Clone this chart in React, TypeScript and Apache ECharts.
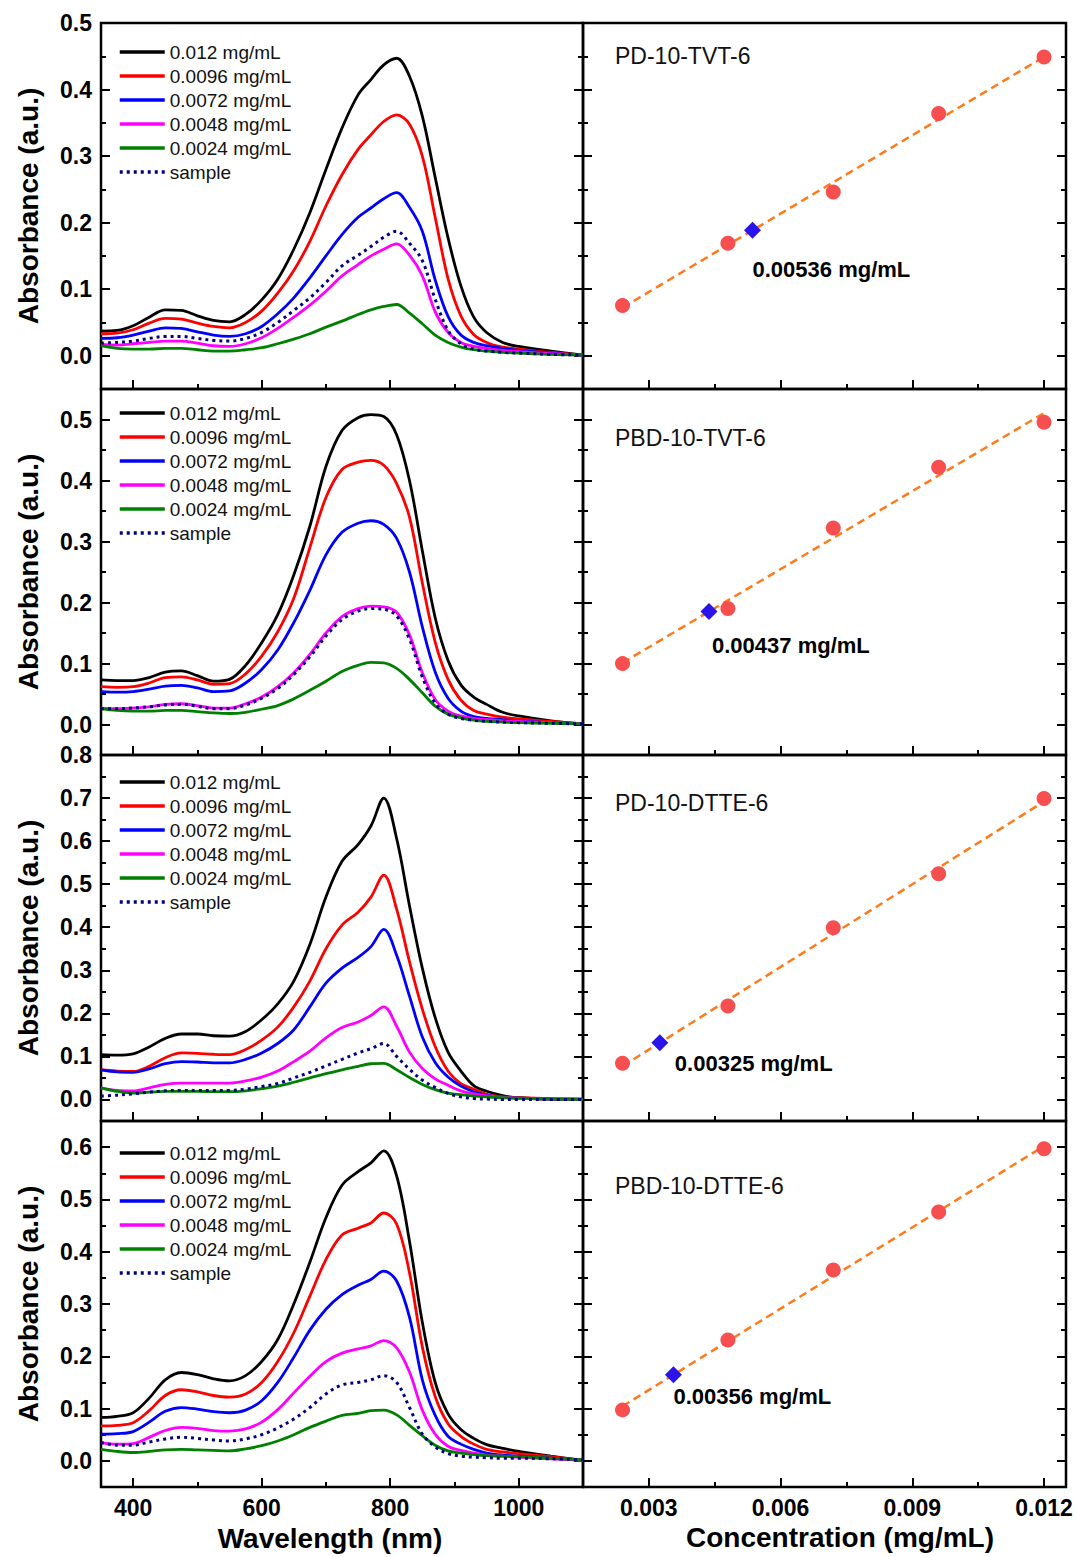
import React, { useEffect, useRef } from "react";
import * as echarts from "echarts";

// ---- spectra: absorbance vs wavelength (nm) ----
const WAVELENGTH = [350, 375, 400, 425, 450, 475, 500, 525, 550, 575, 600, 625, 650, 675, 700, 725, 750, 770, 790, 810, 830, 850, 870, 890, 910, 930, 950, 975, 1000, 1050, 1100];

const SERIES_NAMES = ["0.012 mg/mL", "0.0096 mg/mL", "0.0072 mg/mL", "0.0048 mg/mL", "0.0024 mg/mL", "sample"];
const SERIES_COLORS = ["#000000", "#ff0000", "#0000ff", "#ff00ff", "#008000", "#000080"];

// PD-10-TVT-6
const PD_TVT_0120 = [0.037, 0.038, 0.045, 0.058, 0.069, 0.068, 0.060, 0.053, 0.051, 0.062, 0.084, 0.115, 0.160, 0.215, 0.280, 0.342, 0.392, 0.415, 0.437, 0.447, 0.420, 0.360, 0.268, 0.177, 0.105, 0.058, 0.035, 0.020, 0.014, 0.007, 0.001];
const PD_TVT_0096 = [0.033, 0.034, 0.039, 0.049, 0.056, 0.055, 0.049, 0.044, 0.042, 0.050, 0.067, 0.094, 0.128, 0.172, 0.225, 0.272, 0.310, 0.332, 0.352, 0.362, 0.348, 0.300, 0.208, 0.116, 0.060, 0.032, 0.020, 0.013, 0.010, 0.005, 0.001];
const PD_TVT_0072 = [0.026, 0.027, 0.031, 0.037, 0.042, 0.041, 0.036, 0.031, 0.029, 0.033, 0.044, 0.063, 0.087, 0.117, 0.150, 0.182, 0.208, 0.222, 0.236, 0.245, 0.223, 0.187, 0.114, 0.059, 0.031, 0.020, 0.015, 0.011, 0.008, 0.004, 0.001];
const PD_TVT_0048 = [0.017, 0.016, 0.018, 0.020, 0.022, 0.022, 0.019, 0.015, 0.014, 0.018, 0.027, 0.041, 0.058, 0.076, 0.097, 0.120, 0.137, 0.150, 0.160, 0.168, 0.151, 0.120, 0.066, 0.035, 0.020, 0.014, 0.011, 0.008, 0.006, 0.003, 0.001];
const PD_TVT_0024 = [0.015, 0.011, 0.010, 0.010, 0.011, 0.011, 0.009, 0.007, 0.007, 0.009, 0.012, 0.018, 0.025, 0.033, 0.043, 0.052, 0.062, 0.069, 0.074, 0.077, 0.064, 0.048, 0.031, 0.020, 0.013, 0.009, 0.007, 0.005, 0.004, 0.002, 0.001];
const PD_TVT_SAMPLE = [0.019, 0.020, 0.022, 0.026, 0.029, 0.029, 0.026, 0.023, 0.022, 0.026, 0.035, 0.050, 0.068, 0.087, 0.110, 0.135, 0.151, 0.164, 0.178, 0.187, 0.169, 0.143, 0.085, 0.038, 0.018, 0.010, 0.007, 0.005, 0.004, 0.002, 0.001];

// PBD-10-TVT-6
const PBD_TVT_0120 = [0.073, 0.072, 0.072, 0.077, 0.086, 0.088, 0.080, 0.071, 0.074, 0.097, 0.134, 0.180, 0.245, 0.325, 0.423, 0.482, 0.503, 0.508, 0.505, 0.475, 0.400, 0.285, 0.175, 0.105, 0.065, 0.045, 0.033, 0.020, 0.014, 0.006, 0.001];
const PBD_TVT_0096 = [0.062, 0.061, 0.062, 0.068, 0.077, 0.078, 0.073, 0.066, 0.067, 0.083, 0.112, 0.152, 0.207, 0.290, 0.372, 0.418, 0.430, 0.433, 0.425, 0.395, 0.340, 0.232, 0.135, 0.074, 0.040, 0.023, 0.017, 0.012, 0.009, 0.005, 0.001];
const PBD_TVT_0072 = [0.054, 0.053, 0.054, 0.058, 0.063, 0.064, 0.060, 0.054, 0.055, 0.068, 0.090, 0.122, 0.167, 0.220, 0.278, 0.315, 0.330, 0.334, 0.328, 0.305, 0.250, 0.160, 0.086, 0.043, 0.022, 0.013, 0.010, 0.008, 0.006, 0.003, 0.001];
const PBD_TVT_0048 = [0.027, 0.026, 0.027, 0.029, 0.033, 0.034, 0.031, 0.027, 0.027, 0.034, 0.045, 0.062, 0.085, 0.115, 0.150, 0.177, 0.190, 0.194, 0.193, 0.184, 0.147, 0.085, 0.041, 0.022, 0.014, 0.010, 0.008, 0.006, 0.005, 0.003, 0.001];
const PBD_TVT_0024 = [0.026, 0.023, 0.022, 0.022, 0.023, 0.023, 0.021, 0.019, 0.018, 0.020, 0.025, 0.031, 0.042, 0.056, 0.071, 0.087, 0.097, 0.102, 0.101, 0.092, 0.074, 0.052, 0.030, 0.017, 0.011, 0.007, 0.005, 0.004, 0.003, 0.002, 0.001];
const PBD_TVT_SAMPLE = [0.026, 0.026, 0.027, 0.029, 0.032, 0.033, 0.030, 0.026, 0.026, 0.032, 0.043, 0.059, 0.082, 0.111, 0.145, 0.172, 0.186, 0.190, 0.189, 0.178, 0.140, 0.078, 0.035, 0.017, 0.010, 0.007, 0.005, 0.004, 0.003, 0.002, 0.001];

// PD-10-DTTE-6
const PD_DTTE_0120 = [0.104, 0.103, 0.106, 0.122, 0.142, 0.152, 0.152, 0.148, 0.147, 0.158, 0.185, 0.222, 0.275, 0.360, 0.470, 0.553, 0.592, 0.635, 0.700, 0.606, 0.450, 0.305, 0.190, 0.110, 0.066, 0.032, 0.019, 0.009, 0.004, 0.001, 0.000];
const PD_DTTE_0096 = [0.069, 0.066, 0.065, 0.077, 0.097, 0.108, 0.107, 0.105, 0.104, 0.116, 0.138, 0.168, 0.215, 0.275, 0.350, 0.405, 0.435, 0.470, 0.521, 0.442, 0.320, 0.210, 0.123, 0.066, 0.037, 0.024, 0.012, 0.006, 0.004, 0.002, 0.001];
const PD_DTTE_0072 = [0.069, 0.064, 0.063, 0.071, 0.083, 0.088, 0.087, 0.085, 0.085, 0.093, 0.108, 0.130, 0.162, 0.215, 0.270, 0.305, 0.330, 0.355, 0.395, 0.335, 0.240, 0.145, 0.086, 0.052, 0.031, 0.018, 0.010, 0.005, 0.003, 0.001, 0.001];
const PD_DTTE_0048 = [0.027, 0.021, 0.020, 0.027, 0.035, 0.038, 0.038, 0.038, 0.038, 0.043, 0.052, 0.066, 0.088, 0.112, 0.143, 0.167, 0.180, 0.195, 0.215, 0.170, 0.110, 0.072, 0.048, 0.033, 0.020, 0.013, 0.009, 0.005, 0.003, 0.001, 0.000];
const PD_DTTE_0024 = [0.027, 0.019, 0.015, 0.017, 0.019, 0.019, 0.019, 0.018, 0.018, 0.020, 0.025, 0.031, 0.040, 0.050, 0.060, 0.069, 0.077, 0.083, 0.084, 0.069, 0.051, 0.035, 0.023, 0.015, 0.011, 0.008, 0.006, 0.004, 0.003, 0.001, 0.000];
const PD_DTTE_SAMPLE = [0.008, 0.010, 0.013, 0.017, 0.020, 0.021, 0.021, 0.021, 0.021, 0.024, 0.030, 0.037, 0.050, 0.063, 0.078, 0.093, 0.108, 0.118, 0.130, 0.100, 0.070, 0.045, 0.028, 0.014, 0.006, 0.002, 0.001, 0.000, 0.000, 0.000, 0.000];

// PBD-10-DTTE-6
const PBD_DTTE_0120 = [0.083, 0.085, 0.092, 0.120, 0.155, 0.169, 0.165, 0.157, 0.153, 0.163, 0.190, 0.232, 0.300, 0.380, 0.465, 0.527, 0.553, 0.570, 0.593, 0.545, 0.420, 0.265, 0.150, 0.090, 0.060, 0.043, 0.031, 0.024, 0.018, 0.009, 0.001];
const PBD_DTTE_0096 = [0.067, 0.068, 0.073, 0.096, 0.125, 0.136, 0.132, 0.125, 0.122, 0.128, 0.150, 0.190, 0.245, 0.315, 0.385, 0.432, 0.445, 0.455, 0.474, 0.453, 0.360, 0.218, 0.123, 0.071, 0.047, 0.032, 0.022, 0.017, 0.014, 0.008, 0.001];
const PBD_DTTE_0072 = [0.051, 0.052, 0.056, 0.074, 0.095, 0.102, 0.099, 0.094, 0.092, 0.097, 0.115, 0.150, 0.198, 0.250, 0.290, 0.318, 0.336, 0.347, 0.363, 0.344, 0.275, 0.155, 0.087, 0.047, 0.032, 0.022, 0.015, 0.011, 0.009, 0.005, 0.001];
const PBD_DTTE_0048 = [0.035, 0.032, 0.033, 0.045, 0.058, 0.064, 0.062, 0.058, 0.057, 0.061, 0.074, 0.098, 0.130, 0.162, 0.190, 0.206, 0.214, 0.220, 0.230, 0.216, 0.170, 0.097, 0.051, 0.028, 0.020, 0.015, 0.011, 0.009, 0.007, 0.004, 0.001];
const PBD_DTTE_0024 = [0.022, 0.018, 0.016, 0.018, 0.021, 0.022, 0.021, 0.020, 0.019, 0.023, 0.029, 0.038, 0.050, 0.064, 0.076, 0.087, 0.091, 0.096, 0.097, 0.088, 0.068, 0.048, 0.030, 0.019, 0.015, 0.012, 0.010, 0.009, 0.008, 0.005, 0.002];
const PBD_DTTE_SAMPLE = [0.035, 0.030, 0.030, 0.036, 0.042, 0.045, 0.043, 0.040, 0.038, 0.042, 0.050, 0.063, 0.080, 0.102, 0.128, 0.145, 0.150, 0.155, 0.163, 0.150, 0.102, 0.051, 0.027, 0.014, 0.009, 0.007, 0.006, 0.005, 0.005, 0.004, 0.002];

// ---- calibration: peak absorbance vs concentration ----
const STD_CONC = [0.0024, 0.0048, 0.0072, 0.0096, 0.012];
const PD_TVT_STD = [0.0755, 0.169, 0.246, 0.364, 0.449];
const PBD_TVT_STD = [0.0998, 0.19, 0.322, 0.4216, 0.4956];
const PD_DTTE_STD = [0.084, 0.217, 0.399, 0.524, 0.699];
const PBD_DTTE_STD = [0.0975, 0.231, 0.365, 0.476, 0.597];
const SAMPLE_CONC = [0.00536, 0.00437, 0.00325, 0.00356];

const PANEL_TITLES = ["PD-10-TVT-6", "PBD-10-TVT-6", "PD-10-DTTE-6", "PBD-10-DTTE-6"];

// ---- axes ----
const Y_MIN = -0.05;
const Y_MAX = [0.5, 0.55, 0.8, 0.65];
const Y_TICKS = [
  [0, 0.1, 0.2, 0.3, 0.4, 0.5],
  [0, 0.1, 0.2, 0.3, 0.4, 0.5],
  [0, 0.1, 0.2, 0.3, 0.4, 0.5, 0.6, 0.7, 0.8],
  [0, 0.1, 0.2, 0.3, 0.4, 0.5, 0.6],
];
const WL_MIN = 350;
const WL_MAX = 1100;
const WL_TICKS = [400, 600, 800, 1000];
const WL_MINOR = [500, 700, 900];
const CONC_MIN = 0.0015;
const CONC_MAX = 0.0125;
const CONC_TICKS = [0.003, 0.006, 0.009, 0.012];
const CONC_MINOR = [0.0045, 0.0075, 0.0105];

const SPECTRA = [
  [PD_TVT_0120, PD_TVT_0096, PD_TVT_0072, PD_TVT_0048, PD_TVT_0024, PD_TVT_SAMPLE],
  [PBD_TVT_0120, PBD_TVT_0096, PBD_TVT_0072, PBD_TVT_0048, PBD_TVT_0024, PBD_TVT_SAMPLE],
  [PD_DTTE_0120, PD_DTTE_0096, PD_DTTE_0072, PD_DTTE_0048, PD_DTTE_0024, PD_DTTE_SAMPLE],
  [PBD_DTTE_0120, PBD_DTTE_0096, PBD_DTTE_0072, PBD_DTTE_0048, PBD_DTTE_0024, PBD_DTTE_SAMPLE],
];
const STANDARDS = [PD_TVT_STD, PBD_TVT_STD, PD_DTTE_STD, PBD_DTTE_STD];

// ---- layout (px) ----
const ROW_TOP = [23, 389, 755, 1121];
const ROW_H = 366;
const LEFT_X = 101;
const LEFT_W = 482;
const RIGHT_X = 583;
const RIGHT_W = 483;
const LEGEND_TOP = [40, 401, 770, 1141];
const TITLE_Y = [56, 438, 803, 1186];
const NOTE_OFFSET = [
  [0, 39],
  [3, 34],
  [15, 21],
  [0, 22],
];
const FONT = 'Arial, "Liberation Sans", Helvetica, sans-serif';

function linearFit(xs: number[], ys: number[]) {
  const n = xs.length;
  const mx = xs.reduce((a, b) => a + b, 0) / n;
  const my = ys.reduce((a, b) => a + b, 0) / n;
  let sxy = 0;
  let sxx = 0;
  for (let i = 0; i < n; i++) {
    sxy += (xs[i] - mx) * (ys[i] - my);
    sxx += (xs[i] - mx) * (xs[i] - mx);
  }
  const slope = sxy / sxx;
  const intercept = my - slope * mx;
  return (x: number) => intercept + slope * x;
}

const round3 = (v: number) => Math.round(v * 1000) / 1000;

function tickStyle(length: number) {
  return { lineStyle: { color: "#000", width: 2 }, inside: true, length };
}

const labelStyle = {
  color: "#000",
  fontSize: 23,
  fontWeight: "bold" as const,
  fontFamily: FONT,
};

function buildOption() {
  const grid: any[] = [];
  const xAxis: any[] = [];
  const yAxis: any[] = [];
  const series: any[] = [];
  const legend: any[] = [];
  const graphic: any[] = [];

  ROW_TOP.forEach((top, r) => {
    const isLast = r === ROW_TOP.length - 1;
    const gl = r * 2;
    const gr = r * 2 + 1;
    const border = { show: true, borderColor: "#000", borderWidth: 2.5, backgroundColor: "transparent" };
    grid.push({ left: LEFT_X, top, width: LEFT_W, height: ROW_H, ...border });
    grid.push({ left: RIGHT_X, top, width: RIGHT_W, height: ROW_H, ...border });

    // x axes: major + minor ticks for both panels
    const xBase = (gi: number, min: number, max: number) => ({
      type: "value",
      gridIndex: gi,
      min,
      max,
      position: "bottom",
      axisLine: { show: false, onZero: false },
      splitLine: { show: false },
    });
    xAxis.push({
      ...xBase(gl, WL_MIN, WL_MAX),
      axisTick: { ...tickStyle(9), customValues: WL_TICKS },
      axisLabel: isLast
        ? { ...labelStyle, margin: 9, customValues: WL_TICKS, formatter: (v: number) => String(v) }
        : { show: false },
    });
    xAxis.push({
      ...xBase(gl, WL_MIN, WL_MAX),
      axisTick: { ...tickStyle(5), customValues: WL_MINOR },
      axisLabel: { show: false },
    });
    xAxis.push({
      ...xBase(gr, CONC_MIN, CONC_MAX),
      axisTick: { ...tickStyle(9), customValues: CONC_TICKS },
      axisLabel: isLast
        ? { ...labelStyle, margin: 9, customValues: CONC_TICKS, formatter: (v: number) => v.toFixed(3) }
        : { show: false },
    });
    xAxis.push({
      ...xBase(gr, CONC_MIN, CONC_MAX),
      axisTick: { ...tickStyle(5), customValues: CONC_MINOR },
      axisLabel: { show: false },
    });

    // y axes: left/right sides of both panels, major + minor ticks
    const majors = Y_TICKS[r];
    const minors = majors.map((v) => round3(v + 0.05)).filter((v) => v < Y_MAX[r] - 1e-6);
    const yBase = (gi: number, position: string) => ({
      type: "value",
      gridIndex: gi,
      min: Y_MIN,
      max: Y_MAX[r],
      position,
      offset: 0,
      axisLine: { show: false, onZero: false },
      splitLine: { show: false },
    });
    const sides: [number, string, boolean][] = [
      [gl, "left", true],
      [gl, "right", false],
      [gr, "left", false],
      [gr, "right", false],
    ];
    sides.forEach(([gi, pos, labels]) => {
      yAxis.push({
        ...yBase(gi, pos),
        axisTick: { ...tickStyle(9), customValues: majors },
        axisLabel: labels
          ? { ...labelStyle, margin: 9, customValues: majors, formatter: (v: number) => v.toFixed(1) }
          : { show: false },
      });
      yAxis.push({
        ...yBase(gi, pos),
        axisTick: { ...tickStyle(5), customValues: minors },
        axisLabel: { show: false },
      });
    });

    const xl = r * 4;
    const xr = r * 4 + 2;
    const yl = r * 8;
    const yr = r * 8 + 4;

    // absorption spectra
    SPECTRA[r].forEach((vals, i) => {
      const dotted = i === SERIES_NAMES.length - 1;
      series.push({
        type: "line",
        name: SERIES_NAMES[i],
        xAxisIndex: xl,
        yAxisIndex: yl,
        data: WAVELENGTH.map((w, k) => [w, vals[k]]),
        symbol: "none",
        showSymbol: false,
        smooth: 0.35,
        lineStyle: {
          color: SERIES_COLORS[i],
          width: dotted ? 3 : 2.8,
          type: dotted ? [3, 4] : "solid",
        },
        itemStyle: { color: SERIES_COLORS[i] },
        z: 2 + i,
        silent: true,
      });
    });

    // calibration line, standards and sample
    const fit = linearFit(STD_CONC, STANDARDS[r]);
    const x0 = STD_CONC[0];
    const x1 = STD_CONC[STD_CONC.length - 1];
    series.push({
      type: "line",
      xAxisIndex: xr,
      yAxisIndex: yr,
      data: [
        [x0, fit(x0)],
        [x1, fit(x1)],
      ],
      symbol: "none",
      lineStyle: { color: "#ff7a1a", width: 2.5, type: [8, 5] },
      z: 2,
      silent: true,
    });
    series.push({
      type: "scatter",
      xAxisIndex: xr,
      yAxisIndex: yr,
      data: STD_CONC.map((c, i) => [c, STANDARDS[r][i]]),
      symbol: "circle",
      symbolSize: 15,
      itemStyle: { color: "#f74f4f", opacity: 1 },
      z: 3,
      silent: true,
    });
    const sc = SAMPLE_CONC[r];
    const [dx, dy] = NOTE_OFFSET[r];
    series.push({
      type: "scatter",
      xAxisIndex: xr,
      yAxisIndex: yr,
      data: [[sc, fit(sc)]],
      symbol: "diamond",
      symbolSize: 17,
      itemStyle: { color: "#2a14ea", opacity: 1 },
      label: {
        show: true,
        position: [8.5 + dx, 8.5 + dy],
        align: "left",
        verticalAlign: "middle",
        formatter: (p: any) => `${p.value[0]} mg/mL`,
        color: "#000",
        fontSize: 22,
        fontWeight: "bold",
        fontFamily: FONT,
      },
      z: 4,
      silent: true,
    });

    legend.push({
      orient: "vertical",
      left: 118,
      top: LEGEND_TOP[r],
      padding: 0,
      itemGap: 0,
      itemWidth: 45,
      itemHeight: 12,
      selectedMode: false,
      data: SERIES_NAMES,
      itemStyle: { opacity: 0 },
      lineStyle: { width: 3.5 },
      textStyle: { fontSize: 19, fontFamily: FONT, color: "#111", lineHeight: 24 },
    });

    graphic.push({
      type: "text",
      x: 615,
      y: TITLE_Y[r],
      style: {
        text: PANEL_TITLES[r],
        font: `normal 23px ${FONT}`,
        fill: "#111",
        textAlign: "left",
        textVerticalAlign: "middle",
      },
    });
    graphic.push({
      type: "text",
      x: 28,
      y: top + ROW_H / 2,
      rotation: Math.PI / 2,
      style: {
        text: "Absorbance (a.u.)",
        font: `bold 28px ${FONT}`,
        fill: "#000",
        textAlign: "center",
        textVerticalAlign: "middle",
      },
    });
  });

  graphic.push({
    type: "text",
    x: 330,
    y: 1538,
    style: {
      text: "Wavelength (nm)",
      font: `bold 28px ${FONT}`,
      fill: "#000",
      textAlign: "center",
      textVerticalAlign: "middle",
    },
  });
  graphic.push({
    type: "text",
    x: 840,
    y: 1537,
    style: {
      text: "Concentration (mg/mL)",
      font: `bold 28px ${FONT}`,
      fill: "#000",
      textAlign: "center",
      textVerticalAlign: "middle",
    },
  });

  return {
    animation: false,
    backgroundColor: "#ffffff",
    grid,
    xAxis,
    yAxis,
    series,
    legend,
    graphic,
  };
}

export default function App() {
  const ref = useRef<HTMLDivElement>(null);
  useEffect(() => {
    if (!ref.current) return;
    const chart = echarts.init(ref.current, undefined, { renderer: "svg" });
    chart.setOption(buildOption() as any);
    return () => chart.dispose();
  }, []);
  return (
    <div
      ref={ref}
      style={{ position: "absolute", left: 0, top: 0, width: 1077, height: 1557, background: "#fff" }}
    />
  );
}
